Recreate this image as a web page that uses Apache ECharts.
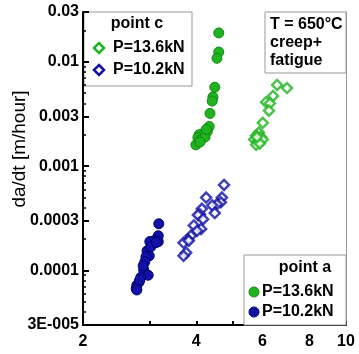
<!DOCTYPE html>
<html><head><meta charset="utf-8">
<script src="https://cdn.jsdelivr.net/npm/echarts@6/dist/echarts.min.js"></script>
<style>html,body{margin:0;padding:0;background:#fff}#c{width:359px;height:354px}</style>
</head><body><div id="c"></div>
<script>
// ---- axis ticks / labels ----
const xTickValues = [2, 3, 4, 5, 6, 7, 8, 9, 10];
const xLabelValues = [2, 4, 6, 8, 10];
const yLabelValues = [3e-5, 1e-4, 3e-4, 1e-3, 3e-3, 0.01, 0.03];
const yLabelTexts = ['3E-005', '0.0001', '0.0003', '0.001', '0.003', '0.01', '0.03'];
const yMinorTickValues = [3e-5, 4e-5, 5e-5, 6e-5, 7e-5, 8e-5, 9e-5,
  1e-4, 2e-4, 3e-4, 4e-4, 5e-4, 6e-4, 7e-4, 8e-4, 9e-4,
  1e-3, 2e-3, 3e-3, 4e-3, 5e-3, 6e-3, 7e-3, 8e-3, 9e-3,
  0.01, 0.02, 0.03];
const yAxisName = 'da/dt [m/hour]';
const loadNames = ['P=13.6kN', 'P=10.2kN'];
const boxTitleA = 'point a';
const boxTitleC = 'point c';
const noteLines = ['T = 650°C', 'creep+', 'fatigue'];

// ---- data: [dK-like x, da/dt] ----
const pointA_136 = [[4.59,0.0189],[4.59,0.0124],[4.54,0.0108],[4.48,0.0057],[4.43,0.0046],[4.41,0.0042],
  [4.35,0.0032],[4.33,0.0024],[4.28,0.00215],[4.20,0.0021],[4.07,0.0020],[4.04,0.00188],[3.99,0.0016],
  [4.12,0.0018],[4.22,0.0019],[4.09,0.0017],[4.25,0.00225]];
const pointA_102 = [[3.18,2.8e-4],[3.17,2.15e-4],[3.09,1.93e-4],[3.01,1.89e-4],[3.17,1.89e-4],[2.96,1.54e-4],
  [3.00,1.38e-4],[2.94,1.35e-4],[2.92,1.21e-4],[2.90,1.01e-4],[2.98,9.0e-5],[2.85,8.6e-5],[2.82,7.75e-5],
  [2.78,7.2e-5],[2.77,6.7e-5],[2.78,6.5e-5],[3.03,1.69e-4],[2.89,1.11e-4],[2.83,8.1e-5],[3.13,1.85e-4]];
const pointC_136 = [[6.56,0.0060],[6.97,0.0056],[6.40,0.0047],[6.13,0.0041],[6.28,0.0040],[6.24,0.0034],
  [6.01,0.0026],[5.87,0.0021],[5.77,0.00196],[5.94,0.0019],[5.70,0.0018],[5.84,0.00176],[6.01,0.0018],
  [5.77,0.0016],[5.90,0.00165],[5.80,0.0019]];
const pointC_102 = [[4.74,6.6e-4],[4.25,5.0e-4],[4.68,5.0e-4],[4.65,4.5e-4],[4.54,4.3e-4],[4.41,4.2e-4],
  [4.14,3.9e-4],[4.48,3.55e-4],[4.09,3.45e-4],[4.04,3.4e-4],[4.17,3.1e-4],[3.94,2.7e-4],[4.12,2.5e-4],
  [4.02,2.4e-4],[3.87,2.15e-4],[3.80,1.97e-4],[3.70,1.84e-4],[3.82,1.93e-4],[3.76,1.48e-4],[3.70,1.38e-4]];

const FONT = 'Liberation Sans, Arial, sans-serif';
const GREEN = '#1fb41f', GREEN_D = '#0f8a0f';
const BLUE = '#1212a8', BLUE_D = '#000070';

function yFmt(v) {
  let best = 0, bd = Infinity;
  yLabelValues.forEach((t, i) => { const d = Math.abs(Math.log(v / t)); if (d < bd) { bd = d; best = i; } });
  return bd < 0.05 ? yLabelTexts[best] : '';
}

const chart = echarts.init(document.getElementById('c'), null, {renderer: 'canvas'});
const labelStyle = {color: '#000', fontFamily: FONT, fontWeight: 'bold', fontSize: 16};

chart.setOption({
  animation: false,
  backgroundColor: '#fff',
  grid: {left: 83, right: 13, top: 12, bottom: 29, containLabel: false},
  xAxis: [{
    type: 'log', logBase: 10, min: 2, max: 10,
    axisLine: {show: true, lineStyle: {color: '#000', width: 2}},
    axisTick: {show: true, inside: true, length: 4, lineStyle: {color: '#000', width: 2}, customValues: xTickValues},
    axisLabel: Object.assign({margin: 9, customValues: xLabelValues, formatter: v => String(Math.round(v))}, labelStyle),
    splitLine: {show: false}, minorTick: {show: false}
  }],
  yAxis: [{
    type: 'log', logBase: 10, min: 3e-5, max: 0.03, position: 'left',
    axisLine: {show: true, lineStyle: {color: '#000', width: 2}},
    axisTick: {show: true, inside: true, length: 6, lineStyle: {color: '#000', width: 2}, customValues: yLabelValues},
    axisLabel: Object.assign({margin: 4, customValues: yLabelValues, formatter: yFmt}, labelStyle),
    splitLine: {show: false}
  }, {
    type: 'log', logBase: 10, min: 3e-5, max: 0.03, position: 'left',
    axisLine: {show: false},
    axisTick: {show: true, inside: true, length: 3, lineStyle: {color: '#000', width: 1.5}, customValues: yMinorTickValues},
    axisLabel: {show: false},
    splitLine: {show: false}
  }, {
    type: 'log', logBase: 10, min: 3e-5, max: 0.03, position: 'right',
    axisLine: {show: true, lineStyle: {color: '#999', width: 1}},
    axisTick: {show: false}, axisLabel: {show: false}, splitLine: {show: false}
  }],
  series: [
    {type: 'scatter', name: 'c102', data: pointC_102, symbol: 'diamond', symbolSize: 10,
     itemStyle: {color: '#fff', borderColor: BLUE, borderWidth: 2.5}},
    {type: 'scatter', name: 'c136', data: pointC_136, symbol: 'diamond', symbolSize: 10,
     itemStyle: {color: '#fff', borderColor: GREEN, borderWidth: 2.5}},
    {type: 'scatter', name: 'a102', data: pointA_102, symbol: 'circle', symbolSize: 10,
     itemStyle: {color: BLUE, borderColor: BLUE_D, borderWidth: 1, opacity: 1}},
    {type: 'scatter', name: 'a136', data: pointA_136, symbol: 'circle', symbolSize: 10,
     itemStyle: {color: GREEN, borderColor: GREEN_D, borderWidth: 1, opacity: 1}}
  ],
  graphic: [
    // y axis name
    {type: 'text', x: 20, y: 149, rotation: Math.PI / 2, z: 10,
     style: {text: yAxisName, fill: '#000', font: 'normal 19px ' + FONT, align: 'center', verticalAlign: 'middle'}},
    // point c box
    {type: 'rect', shape: {x: 84, y: 12, width: 108, height: 74}, z: -1,
     style: {fill: '#fff', stroke: '#999', lineWidth: 1}},
    {type: 'text', x: 137, y: 24, z: 10,
     style: {text: boxTitleC, fill: '#000', font: 'bold 16px ' + FONT, align: 'center', verticalAlign: 'middle'}},
    {type: 'polygon', shape: {points: [[99, 43], [104, 48], [99, 53], [94, 48]]}, z: 10,
     style: {fill: '#fff', stroke: GREEN, lineWidth: 2.5}},
    {type: 'text', x: 113, y: 48, z: 10,
     style: {text: loadNames[0], fill: '#000', font: 'bold 16px ' + FONT, align: 'left', verticalAlign: 'middle'}},
    {type: 'polygon', shape: {points: [[99, 65], [104, 70], [99, 75], [94, 70]]}, z: 10,
     style: {fill: '#fff', stroke: BLUE, lineWidth: 2.5}},
    {type: 'text', x: 113, y: 70, z: 10,
     style: {text: loadNames[1], fill: '#000', font: 'bold 16px ' + FONT, align: 'left', verticalAlign: 'middle'}},
    // temperature note box
    {type: 'rect', shape: {x: 265, y: 12, width: 81, height: 61}, z: 5,
     style: {fill: '#fff', stroke: '#999', lineWidth: 1}},
    {type: 'text', x: 270, y: 25, z: 10,
     style: {text: noteLines[0], fill: '#000', font: 'bold 16px ' + FONT, align: 'left', verticalAlign: 'middle'}},
    {type: 'text', x: 270, y: 43, z: 10,
     style: {text: noteLines[1], fill: '#000', font: 'bold 16px ' + FONT, align: 'left', verticalAlign: 'middle'}},
    {type: 'text', x: 270, y: 61, z: 10,
     style: {text: noteLines[2], fill: '#000', font: 'bold 16px ' + FONT, align: 'left', verticalAlign: 'middle'}},
    // point a box
    {type: 'rect', shape: {x: 244, y: 255, width: 102, height: 70}, z: 5,
     style: {fill: '#fff', stroke: '#999', lineWidth: 1}},
    {type: 'text', x: 305, y: 268, z: 10,
     style: {text: boxTitleA, fill: '#000', font: 'bold 16px ' + FONT, align: 'center', verticalAlign: 'middle'}},
    {type: 'circle', shape: {cx: 254, cy: 292, r: 5}, z: 10,
     style: {fill: GREEN, stroke: GREEN_D, lineWidth: 1}},
    {type: 'text', x: 262, y: 292, z: 10,
     style: {text: loadNames[0], fill: '#000', font: 'bold 16px ' + FONT, align: 'left', verticalAlign: 'middle'}},
    {type: 'circle', shape: {cx: 254, cy: 312, r: 5}, z: 10,
     style: {fill: BLUE, stroke: BLUE_D, lineWidth: 1}},
    {type: 'text', x: 262, y: 312, z: 10,
     style: {text: loadNames[1], fill: '#000', font: 'bold 16px ' + FONT, align: 'left', verticalAlign: 'middle'}}
  ]
});
</script></body></html>
